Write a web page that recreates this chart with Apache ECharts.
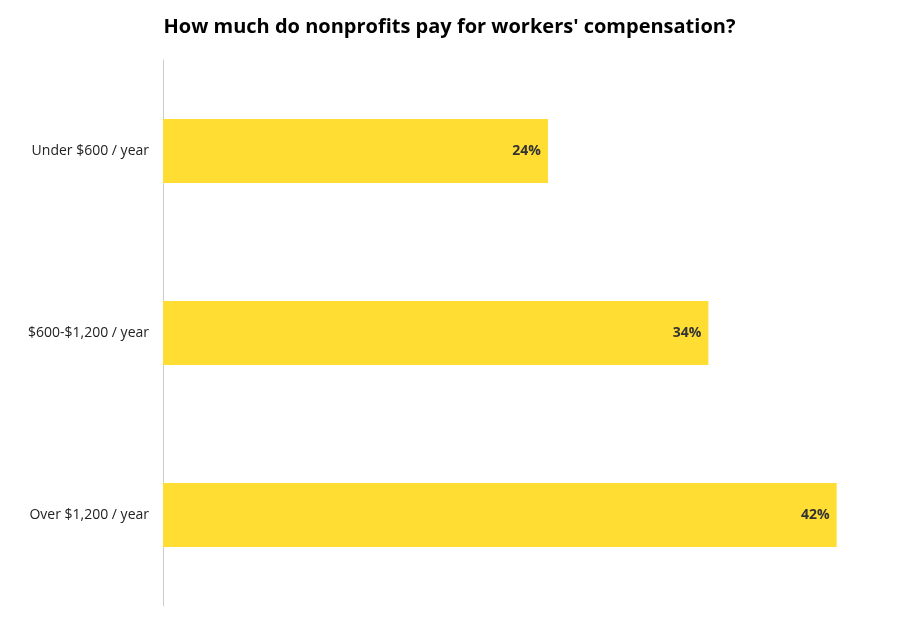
<!DOCTYPE html>
<html><head><meta charset="utf-8">
<script src="https://cdn.jsdelivr.net/npm/echarts@6/dist/echarts.min.js"></script>
<style>html,body{margin:0;padding:0;background:#fff}#c{width:899px;height:621px}</style>
</head><body><div id="c"></div>
<script>
const categories = ["Under $600 / year", "$600-$1,200 / year", "Over $1,200 / year"];
const values = [24, 34, 42];
const chart = echarts.init(document.getElementById('c'));
chart.setOption({
  animation: false,
  title: { text: "How much do nonprofits pay for workers' compensation?", left: 'center', top: 12,
    textStyle: { fontFamily: 'Open Sans', fontWeight: 'bold', fontSize: 20, color: '#000' } },
  grid: { left: 163, top: 60, bottom: 15, width: 721.8 },
  xAxis: { type: 'value', min: 0, max: 45, show: false },
  yAxis: { type: 'category', data: categories, inverse: true,
    axisLine: { lineStyle: { color: '#ccc' } }, axisTick: { show: false },
    axisLabel: { fontFamily: 'Open Sans', fontSize: 14, color: '#222', margin: 14 } },
  series: [{ type: 'bar', data: values, barWidth: 64, itemStyle: { color: '#FFDD33' },
    label: { show: true, position: 'insideRight', formatter: '{c}%', fontFamily: 'Open Sans',
      fontWeight: 'bold', fontSize: 14, color: '#333', offset: [-2, 0] } }]
});
</script></body></html>
